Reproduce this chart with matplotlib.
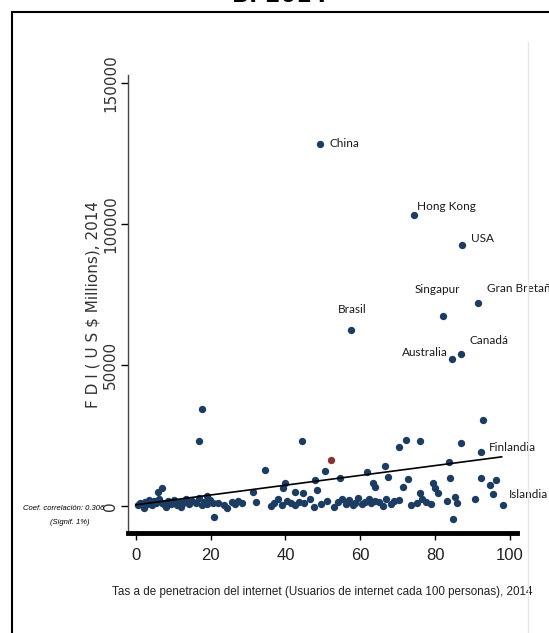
import numpy as np
import matplotlib.pyplot as plt
from matplotlib.patches import Rectangle

# labelled countries
names = ["China", "Hong Kong", "USA", "Singapur", "Gran Bretaña", "Brasil",
         "Australia", "Canadá", "Finlandia", "Islandia"]
name_x = [49.3, 74.3, 87.2, 82.0, 91.6, 57.6, 84.6, 86.8, 92.2, 98.2]
name_y = [128500, 103000, 92500, 67500, 72000, 62500, 52000, 54000, 19000, 400]

# the one highlighted country (red)
red_x = [52.3]
red_y = [16300]

# remaining countries: internet users per 100 people, FDI (US$ millions)
other_x = [17.8, 17.0, 44.3, 34.6, 21.0, 6.0, 6.9, 31.4, 18.9, 39.8, 39.4, 42.5,
           44.7, 47.9, 48.5, 50.6, 54.5, 61.7, 63.4, 63.9, 66.6, 67.5, 70.4, 72.2,
           76.1, 71.5, 72.8, 75.9, 79.5, 80.0, 80.8, 83.6, 84.1, 85.3, 84.8, 86.9,
           92.9, 92.4, 94.7, 96.2, 95.6, 90.6,
           0.5, 1.2, 1.8, 2.5, 3.0, 3.6, 4.2, 4.9, 5.5, 6.3, 7.0, 7.8, 8.5, 9.4,
           10.3, 11.0, 11.8, 12.6, 13.4, 14.2, 15.0, 16.2, 17.0, 17.6, 18.3, 19.0,
           19.8, 20.5, 22.0, 23.5, 25.8, 26.6, 27.4, 28.3, 32.0, 37.0, 38.0, 39.0,
           40.5, 41.5, 43.5, 45.0, 46.5, 49.5, 51.0, 54.0, 55.0, 56.2, 57.0, 58.5,
           59.5, 60.5, 61.3, 62.2, 63.0, 64.0, 65.0, 67.0, 68.2, 69.0, 70.3, 75.2,
           76.5, 77.5, 78.8, 83.2, 85.8, 2.2, 8.0, 12.0, 24.5, 36.0, 42.5, 47.5,
           53.0, 58.0, 66.0, 73.5]
other_y = [34500, 23000, 23000, 12800, -4000, 5000, 6300, 5000, 3500, 8000, 6300, 5000,
           4500, 9300, 5800, 12300, 9900, 12000, 8300, 6600, 14000, 10400, 21000, 23300,
           23000, 6800, 9600, 4600, 8000, 6200, 4500, 15400, 10000, 3300, -4500, 22200,
           30300, 10000, 7400, 9200, 4200, 2500,
           500, 1200, 200, 1500, 800, 2200, 300, 1800, 900, 2500, 1100, 400, 1600, 700,
           2000, 300, 1300, 900, 2400, 600, 1700, 1000, 2800, 300, 1500, 600,
           2100, 900, 1200, 400, 1300, 700, 1900, 1000, 1400, 1100, 2300, 500,
           1700, 900, 1500, 1200, 2600, 800, 1800, 1300, 2400, 700, 2000, 1100,
           2900, 600, 1500, 2300, 900, 1900, 1300, 2600, 800, 1700, 2100, 1000,
           2500, 1400, 600, 1800, 900, -800, -500, -300, -600, -200, 200, -400,
           -300, 300, 100, 500]

# linear fit at the ends of the data range
fit_x = [0.0, 97.8]
fit_y = [400, 17400]

xticks = [0, 20, 40, 60, 80, 100]
yticks = [0, 50000, 100000, 150000]

navy = "#1d3c62"
arial = ["Liberation Sans", "DejaVu Sans"]

fig = plt.figure(figsize=(5.49, 6.33), dpi=100)
ax = fig.add_axes([128 / 549, 1 - 533 / 633, 389 / 549, 458 / 633])

ax.scatter(other_x, other_y, s=28, color=navy, marker="o", zorder=3, linewidths=0)
ax.scatter(name_x, name_y, s=28, color=navy, marker="o", zorder=3, linewidths=0)
ax.scatter(red_x, red_y, s=28, color="#8c2f2f", marker="o", zorder=3, linewidths=0)
ax.plot(fit_x, fit_y, color="black", lw=1.2, zorder=4)

# country labels: offsets in pixels from each point
offsets = {
    "China": (9, 0, "left"),
    "Hong Kong": (3, 9, "left"),
    "USA": (9, 7, "left"),
    "Singapur": (-5, 26, "center"),
    "Gran Bretaña": (9, 14, "left"),
    "Brasil": (1, 20, "center"),
    "Australia": (-4, 7, "right"),
    "Canadá": (9, 13, "left"),
    "Finlandia": (8, 5, "left"),
    "Islandia": (6, 10, "left"),
}
for n, xv, yv in zip(names, name_x, name_y):
    dx, dy, ha = offsets[n]
    ax.annotate(n, (xv, yv), xytext=(dx, dy), textcoords="offset pixels",
                ha=ha, va="center", fontsize=8.5, family="Lato", color="#1a1a1a",
                annotation_clip=False)

ax.set_xlim(-2.1, 101.9)
ax.set_ylim(-9600, 152800)
ax.set_xticks(xticks)
ax.set_yticks(yticks)
ax.set_yticklabels([str(v) for v in yticks], rotation=90, va="center",
                   fontsize=11, color="#333333")
ax.set_xticklabels([str(v) for v in xticks], fontsize=12, family=arial, color="#222222")
ax.tick_params(axis="y", length=5, width=1, pad=2)
ax.tick_params(axis="x", length=5, width=1, pad=6)

for s in ["top", "right"]:
    ax.spines[s].set_visible(False)
ax.spines["left"].set_color("#444444")
ax.spines["left"].set_linewidth(1.0)
ax.spines["bottom"].set_linewidth(3.5)

ax.set_ylabel("F D I ( U S $ Millions), 2014", fontsize=11, color="#333333", labelpad=2)
ax.set_xlabel("Tas a de penetracion del internet (Usuarios de internet cada 100 personas), 2014",
              fontsize=8.4, family=arial, color="#222222", labelpad=16)

fig.text(104 / 549, 1 - 508 / 633, "Coef. correlación: 0.306", ha="right", va="center",
         fontsize=5.5, style="italic", family=arial)
fig.text(70 / 549, 1 - 522 / 633, "(Signif. 1%)", ha="center", va="center",
         fontsize=5.5, style="italic", family=arial)

# title, mostly cut off by the top of the image
fig.text(280 / 549, 1 - 2 / 633, "B. 2014", ha="center", va="baseline",
         fontsize=16, fontweight="bold")

# outer frame and faint right guide line
fig.add_artist(Rectangle((12 / 549, -0.05), 1.0, 1.05 - 12 / 633,
                         transform=fig.transFigure, fill=False, lw=1.5, color="black"))
fig.add_artist(plt.Line2D([528 / 549, 528 / 549], [0, 1 - 42 / 633],
                          transform=fig.transFigure, color="#e6e6e6", lw=1))

fig.savefig("out.png", dpi=100)
